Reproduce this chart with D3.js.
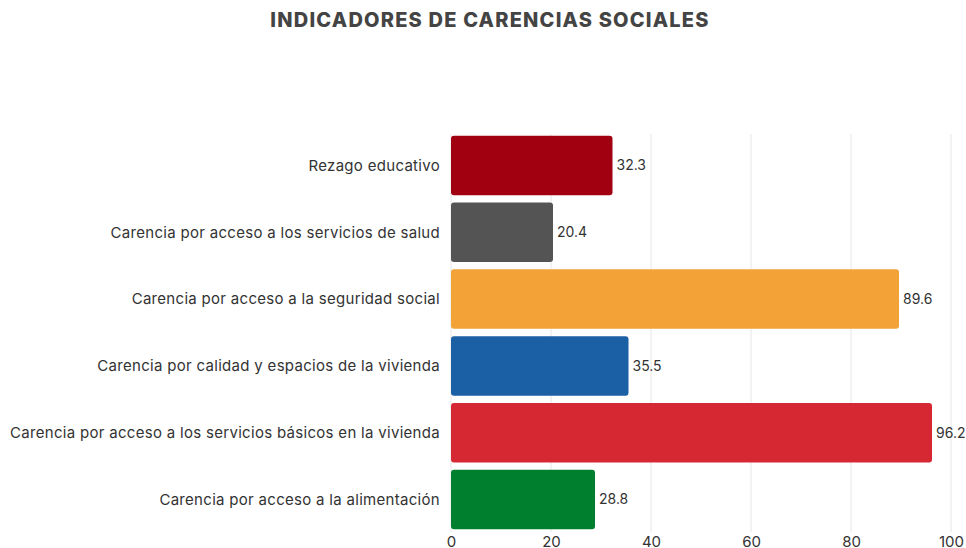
<!DOCTYPE html>
<html>
<head>
<meta charset="utf-8">
<script src="https://cdn.jsdelivr.net/npm/d3@7"></script>
<style>
  body { margin: 0; background: #fff; }
  svg { display: block; font-family: Inter, "Noto Sans", sans-serif; }
</style>
</head>
<body>
<svg id="svg0" width="966" height="548"></svg>
<script>
// data
var categories = [
    "Rezago educativo",
    "Carencia por acceso a los servicios de salud",
    "Carencia por acceso a la seguridad social",
    "Carencia por calidad y espacios de la vivienda",
    "Carencia por acceso a los servicios básicos en la vivienda",
    "Carencia por acceso a la alimentación"
];
var values = [32.3, 20.4, 89.6, 35.5, 96.2, 28.8];
var colors = ["#a10010", "#545454", "#f2a236", "#1b5fa4", "#d62833", "#00802f"];
var ticks = [0, 20, 40, 60, 80, 100];

var width = 966, height = 548;

var svg0 = d3.select('#svg0');

svg0.append('text')
    .attr('x', 490)
    .attr('y', 27)
    .attr('text-anchor', 'middle')
    .attr('font-size', 20)
    .attr('font-weight', 800)
    .attr('letter-spacing', 1.2)
    .attr('fill', '#444')
    .text('INDICADORES DE CARENCIAS SOCIALES');

var x = d3.scaleLinear().domain([0, 100]).range([451, 951]);
var y = d3.scaleBand()
    .domain(categories)
    .range([132, 533])
    .paddingInner(0.11)
    .paddingOuter(0.055);

// grid
svg0.append('g').selectAll('line')
    .data(ticks)
    .enter()
    .append('line')
    .attr('x1', function(d){ return x(d); })
    .attr('x2', function(d){ return x(d); })
    .attr('y1', 134)
    .attr('y2', 532)
    .attr('stroke', '#e6e6e6')
    .attr('stroke-width', 1);

// bars
svg0.append('g').selectAll('rect')
    .data(values)
    .enter()
    .append('rect')
    .attr('x', x(0))
    .attr('y', function(d, i){ return y(categories[i]); })
    .attr('width', function(d){ return x(d) - x(0); })
    .attr('height', y.bandwidth())
    .attr('rx', 3)
    .attr('fill', function(d, i){ return colors[i]; });

// value labels
svg0.append('g').selectAll('text')
    .data(values)
    .enter()
    .append('text')
    .attr('x', function(d){ return x(d) + 4; })
    .attr('y', function(d, i){ return y(categories[i]) + y.bandwidth() / 2; })
    .attr('dy', '0.35em')
    .attr('font-size', 14)
    .attr('fill', '#333')
    .text(function(d){ return d.toFixed(1); });

// category labels
svg0.append('g').selectAll('text')
    .data(categories)
    .enter()
    .append('text')
    .attr('x', 440)
    .attr('y', function(d){ return y(d) + y.bandwidth() / 2; })
    .attr('dy', '0.35em')
    .attr('text-anchor', 'end')
    .attr('font-size', 15)
    .attr('letter-spacing', 0.3)
    .attr('fill', '#333')
    .text(function(d){ return d; });

// x axis
var xAxis = svg0.append('g')
    .attr('transform', 'translate(0,533)')
    .call(d3.axisBottom(x).tickValues(ticks).tickSize(0).tickPadding(3));
xAxis.select('.domain').remove();
xAxis.selectAll('text')
    .attr('font-size', 15)
    .attr('font-family', 'Inter, "Noto Sans", sans-serif')
    .attr('fill', '#333');
</script>
</body>
</html>
